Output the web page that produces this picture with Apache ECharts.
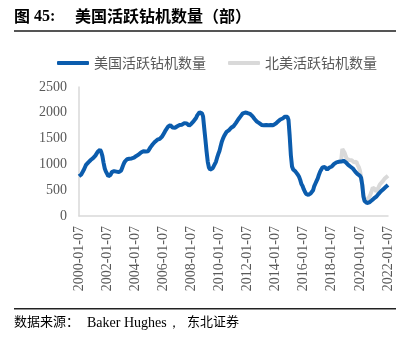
<!DOCTYPE html>
<html>
<head>
<meta charset="utf-8">
<script src="https://cdn.jsdelivr.net/npm/echarts@6/dist/echarts.min.js"></script>
<style>
  html, body { margin: 0; padding: 0; background: #fff; }
  #chart { width: 409px; height: 339px; }
</style>
</head>
<body>
<div id="chart"></div>
<script>
// Monthly observation dates, 2000-01 through 2022-01 (label day fixed at 07)
const startYear = 2000;
const monthCount = 265;
const months = [];
for (let k = 0; k < monthCount; k++) {
  const y = startYear + Math.floor(k / 12);
  const m = (k % 12) + 1;
  months.push(y + '-' + (m < 10 ? '0' + m : m) + '-07');
}

// US active rig count (units)
const usRigs = [
  770, 790, 805, 850, 890, 940, 990, 1020, 1040, 1070, 1085, 1100,
  1120, 1150, 1170, 1200, 1245, 1275, 1285, 1240, 1160, 1030, 920, 860,
  820, 770, 760, 800, 850, 860, 870, 865, 860, 870, 850, 840,
  880, 940, 1000, 1050, 1080, 1100, 1105, 1110, 1100, 1115, 1125, 1130,
  1150, 1165, 1185, 1190, 1210, 1230, 1245, 1255, 1240, 1250, 1260, 1255,
  1290, 1330, 1365, 1390, 1410, 1440, 1465, 1480, 1485, 1495, 1510, 1540,
  1580, 1620, 1660, 1690, 1730, 1765, 1760, 1730, 1715, 1705, 1710, 1725,
  1740, 1750, 1765, 1775, 1770, 1790, 1800, 1810, 1795, 1775, 1750, 1765,
  1790, 1810, 1840, 1870, 1900, 1950, 1985, 2010, 2030, 1990, 1930, 1700,
  1480, 1250, 1050, 940, 900, 890, 920, 960, 990, 1050, 1130, 1200,
  1260, 1350, 1440, 1500, 1550, 1590, 1630, 1650, 1660, 1690, 1710, 1725,
  1740, 1760, 1800, 1830, 1870, 1900, 1930, 1960, 1990, 2010, 2005, 2000,
  1995, 1990, 1980, 1960, 1940, 1910, 1880, 1850, 1830, 1810, 1800, 1790,
  1765, 1770, 1760, 1750, 1765, 1770, 1760, 1770, 1765, 1750, 1760, 1775,
  1790, 1800, 1830, 1855, 1870, 1880, 1890, 1910, 1925, 1930, 1925, 1860,
  1550, 1180, 960, 900, 870, 860, 850, 800, 760, 700, 620, 580,
  520, 470, 430, 410, 410, 420, 440, 470, 500, 580, 630, 680,
  730, 800, 860, 900, 940, 960, 950, 920, 900, 920, 940, 930,
  960, 990, 1010, 1030, 1040, 1055, 1050, 1060, 1055, 1065, 1070, 1060,
  1040, 1010, 990, 970, 955, 940, 920, 890, 860, 840, 810, 800,
  780, 740, 600, 380, 290, 260, 250, 255, 265, 280, 300, 320,
  340, 360, 375, 400, 430, 460, 480, 500, 520, 545, 560, 580,
  600
];

// North America active rig count, available from 2018-09 onward
const naStartIndex = 224;
const naRigs = [
  1080, 1300, 1280, 1220, 1150, 1100, 1090, 1085, 1090, 1080, 1070, 1040,
  1060, 1050, 990, 950, 880, 760, 620, 420, 320, 290, 300, 330,
  370, 420, 480, 550, 570, 520, 470, 500, 560, 610, 640, 660,
  690, 720, 740, 760, 780
];

const yTicks = [0, 500, 1000, 1500, 2000, 2500];

const naSeriesData = months.map((_, k) => k >= naStartIndex ? naRigs[k - naStartIndex] : null);

const chart = echarts.init(document.getElementById('chart'), null, { renderer: 'canvas' });

const labelColor = '#595959';
const serif = '"Liberation Serif", "DejaVu Serif", serif';
const cjk = '"Noto Sans CJK SC", sans-serif';

chart.setOption({
  animation: false,
  backgroundColor: '#fff',
  graphic: [
    {
      type: 'text', left: 14, top: 8,
      style: { text: '图', font: 'bold 16px ' + cjk, fill: '#000' }
    },
    {
      type: 'text', left: 34, top: 9,
      style: { text: '45:', font: 'bold 16px ' + serif, fill: '#000' }
    },
    {
      type: 'text', left: 75, top: 8,
      style: { text: '美国活跃钻机数量（部）', font: 'bold 16px ' + cjk, fill: '#000' }
    },
    {
      type: 'rect', shape: { x: 14, y: 30, width: 382, height: 2 },
      style: { fill: '#555' }
    },
    {
      type: 'rect', shape: { x: 14, y: 308, width: 382, height: 1.5 },
      style: { fill: '#222' }
    },
    {
      type: 'text', left: 14, top: 315,
      style: { text: '数据来源：', font: '13px ' + cjk, fill: '#000' }
    },
    {
      type: 'text', left: 87, top: 316,
      style: { text: 'Baker Hughes，', font: '14px ' + serif, fill: '#000' }
    },
    {
      type: 'text', left: 187, top: 315,
      style: { text: '东北证券', font: '13px ' + cjk, fill: '#000' }
    }
  ],
  legend: {
    top: 51,
    left: 52,
    itemWidth: 32,
    itemHeight: 4,
    itemGap: 22,
    icon: 'roundRect',
    textStyle: { color: labelColor, fontSize: 14, fontFamily: cjk },
    data: ['美国活跃钻机数量', '北美活跃钻机数量']
  },
  grid: { left: 79, right: 21, top: 87, bottom: 123, containLabel: false },
  xAxis: {
    type: 'category',
    data: months,
    boundaryGap: false,
    axisLine: { show: true, lineStyle: { color: '#d9d9d9', width: 1.5 } },
    axisTick: { show: false },
    axisLabel: {
      interval: 23,
      rotate: 90,
      color: labelColor,
      fontSize: 14,
      fontFamily: serif,
      margin: 10
    },
    splitLine: { show: false }
  },
  yAxis: {
    type: 'value',
    min: yTicks[0],
    max: yTicks[yTicks.length - 1],
    interval: 500,
    axisLine: { show: true, lineStyle: { color: '#d9d9d9', width: 1.5 } },
    axisTick: { show: false },
    axisLabel: {
      color: labelColor, fontSize: 14, fontFamily: serif, margin: 12,
      formatter: (v) => String(v)
    },
    splitLine: { show: false }
  },
  series: [
    {
      name: '北美活跃钻机数量',
      type: 'line',
      data: naSeriesData,
      showSymbol: false,
      connectNulls: false,
      lineStyle: { color: '#d9d9d9', width: 4 },
      itemStyle: { color: '#d9d9d9' },
      z: 1
    },
    {
      name: '美国活跃钻机数量',
      type: 'line',
      data: usRigs,
      showSymbol: false,
      lineStyle: { color: '#0b5cad', width: 4 },
      itemStyle: { color: '#0b5cad' },
      z: 2
    }
  ]
});
</script>
</body>
</html>
